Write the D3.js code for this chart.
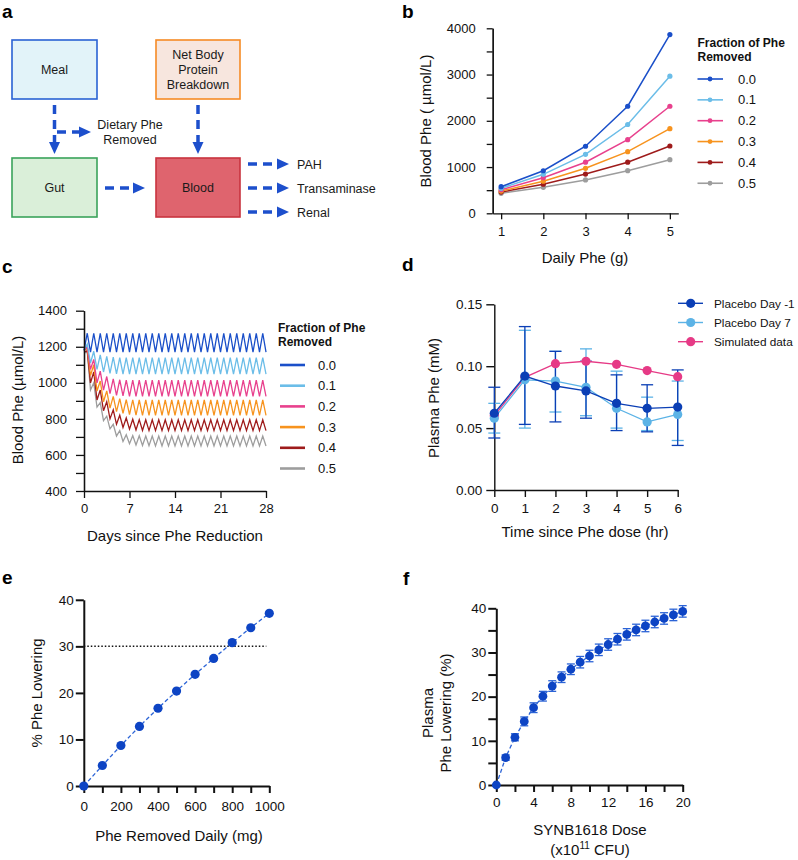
<!DOCTYPE html>
<html><head><meta charset="utf-8">
<script src="https://cdn.jsdelivr.net/npm/d3@7"></script>
<style>body{margin:0;background:#fff} svg{display:block}</style>
</head><body>
<svg id="fig" width="798" height="860"></svg>
<script>
// ---------------- DATA ----------------
// Panel a (schematic)
const aBoxNames = [["Meal"], ["Net Body", "Protein", "Breakdown"], ["Gut"], ["Blood"]];
const aOutflows = ["PAH", "Transaminase", "Renal"];
const aSideLabel = ["Dietary Phe", "Removed"];

// Panel b
const bDailyPhe = [1, 2, 3, 4, 5];
const bFractions = ["0.0", "0.1", "0.2", "0.3", "0.4", "0.5"];
const bBlood00 = [575, 920, 1450, 2315, 3865];
const bBlood01 = [540, 843, 1275, 1920, 2965];
const bBlood02 = [510, 770, 1105, 1592, 2315];
const bBlood03 = [480, 695, 973, 1333, 1830];
const bBlood04 = [458, 628, 848, 1105, 1455];
const bBlood05 = [432, 562, 722, 921, 1160];
const bYTicks = [0, 1000, 2000, 3000, 4000];

// Panel c : daily trough (days 0..28) and peak (days 0..27) values
const cFractions = ["0.0", "0.1", "0.2", "0.3", "0.4", "0.5"];
const cTrough00 = [1180, 1170,1170,1170,1170,1170,1170,1170, 1170,1170,1170,1170,1170,1170,1170, 1170,1170,1170,1170,1170,1170,1170, 1170,1170,1170,1170,1170,1170,1170];
const cPeak00   = [1275,1275,1275,1275,1275,1275,1275, 1275,1275,1275,1275,1275,1275,1275, 1275,1275,1275,1275,1275,1275,1275, 1275,1275,1275,1275,1275,1275,1275];
const cTrough01 = [1180,1110,1075,1060,1052,1049,1048, 1048,1048,1048,1048,1048,1048,1048, 1048,1048,1048,1048,1048,1048,1048, 1048,1048,1048,1048,1048,1048,1048, 1048];
const cPeak01   = [1215,1175,1155,1146,1142,1140,1140, 1140,1140,1140,1140,1140,1140,1140, 1140,1140,1140,1140,1140,1140,1140, 1140,1140,1140,1140,1140,1140,1140];
const cTrough02 = [1180,1075,1000,960,940,930,927, 925,925,925,925,925,925,925, 925,925,925,925,925,925,925, 925,925,925,925,925,925,925, 925];
const cPeak02   = [1200,1130,1065,1035,1022,1017,1015, 1015,1015,1015,1015,1015,1015,1015, 1015,1015,1015,1015,1015,1015,1015, 1015,1015,1015,1015,1015,1015,1015];
const cTrough03 = [1180,1040,955,895,860,840,830, 824,821,820,820,820,820,820, 820,820,820,820,820,820,820, 820,820,820,820,820,820,820, 820];
const cPeak03   = [1190,1100,1010,955,925,912,907, 905,905,905,905,905,905,905, 905,905,905,905,905,905,905, 905,905,905,905,905,905,905];
const cTrough04 = [1170,1000,905,845,800,770,752, 743,738,736,735,735,735,735, 735,735,735,735,735,735,735, 735,735,735,735,735,735,735, 735];
const cPeak04   = [1178,1060,960,895,850,820,805, 798,796,795,795,795,795,795, 795,795,795,795,795,795,795, 795,795,795,795,795,795,795];
const cTrough05 = [1165,960,865,790,745,705,675, 662,655,652,651,650,650,650, 650,650,650,650,650,650,650, 650,650,650,650,650,650,650, 650];
const cPeak05   = [1172,1000,890,815,770,735,712, 707,706,705,705,705,705,705, 705,705,705,705,705,705,705, 705,705,705,705,705,705,705];
const cXTicks = [0, 7, 14, 21, 28];
const cYTicks = [400, 600, 800, 1000, 1200, 1400];

// Panel d
const dTime = [0, 1, 2, 3, 4, 5, 6];
const dSeriesNames = ["Placebo Day -1", "Placebo Day 7", "Simulated data"];
const dDayM1   = [0.062, 0.092, 0.084, 0.080, 0.070, 0.066, 0.067];
const dDayM1Lo = [0.042, 0.053, 0.055, 0.058, 0.048, 0.047, 0.036];
const dDayM1Hi = [0.083, 0.132, 0.112, 0.104, 0.093, 0.085, 0.097];
const dDay7    = [0.058, 0.089, 0.088, 0.083, 0.066, 0.055, 0.061];
const dDay7Lo  = [0.046, 0.050, 0.063, 0.060, 0.050, 0.048, 0.040];
const dDay7Hi  = [0.070, 0.129, 0.112, 0.114, 0.096, 0.075, 0.088];
const dSim     = [0.060, 0.091, 0.102, 0.104, 0.1015, 0.0965, 0.0915];
const dYTicks = [0, 0.05, 0.10, 0.15];

// Panel e
const eRemoved = [0, 100, 200, 300, 400, 500, 600, 700, 800, 900, 1000];
const eLowering = [0, 4.4, 8.7, 12.8, 16.7, 20.4, 24.0, 27.4, 30.8, 34.0, 37.1];
const eThreshold = 30;
const eYTicks = [0, 10, 20, 30, 40];

// Panel f
const fDose = [0,1,2,3,4,5,6,7,8,9,10,11,12,13,14,15,16,17,18,19,20];
const fLowering = [0, 6.2, 10.8, 14.4, 17.5, 20.1, 22.4, 24.4, 26.2, 27.8, 29.2, 30.6, 31.8, 33.0, 34.1, 35.1, 36.0, 36.9, 37.7, 38.5, 39.3];
const fErr = [0, 0.6, 0.8, 1.0, 1.1, 1.1, 1.2, 1.2, 1.2, 1.3, 1.3, 1.3, 1.3, 1.3, 1.3, 1.3, 1.3, 1.3, 1.3, 1.3, 1.3];
const fXTicks = [0, 4, 8, 12, 16, 20];
const fYTicks = [0, 10, 20, 30, 40];

// ---------------- STYLE ----------------
const FONT = "'Liberation Sans', Arial, Helvetica, sans-serif";
const seriesColors = ["#1a4fc9", "#6bbde8", "#e8418d", "#f7931e", "#9e1b1b", "#9d9d9d"];
const dColors = ["#0b3fb5", "#5cb3e6", "#e63a86"];
const blueDot = "#0d44c4";
const blueLine = "#2b63d6";

const svg = d3.select("#fig");

function txt(g, x, y, s, opt = {}) {
  return g.append("text").attr("x", x).attr("y", y)
    .attr("font-family", FONT).attr("font-size", opt.size || 13)
    .attr("font-weight", opt.weight || "normal")
    .attr("text-anchor", opt.anchor || "start")
    .attr("fill", opt.fill || "#111").text(s);
}
function panelLabel(x, y, s) { txt(svg, x, y, s, {size: 19, weight: "bold", fill: "#000"}); }
function styleAxis(g, fs, sw) {
  g.select("path.domain").attr("stroke", "#111").attr("stroke-width", sw);
  g.selectAll(".tick line").attr("stroke", "#111").attr("stroke-width", sw);
  g.selectAll(".tick text").attr("font-family", FONT).attr("font-size", fs).attr("fill", "#111");
}
function rotLabel(x, y, s, size) {
  svg.append("text").attr("transform", `translate(${x},${y}) rotate(-90)`)
    .attr("text-anchor", "middle").attr("dominant-baseline", "central")
    .attr("font-family", FONT).attr("font-size", size || 15).attr("fill", "#111").text(s);
}

// ---------------- PANEL A ----------------
(function () {
  panelLabel(2, 18, "a");
  const g = svg.append("g");
  const boxes = [
    {x: 12, y: 40, w: 85, h: 59, fill: "#e2f3f9", stroke: "#2a62d4"},
    {x: 156, y: 40, w: 84, h: 59, fill: "#f7e6de", stroke: "#f68b25"},
    {x: 12, y: 158, w: 85, h: 59, fill: "#daefd9", stroke: "#3aa35a"},
    {x: 156, y: 158, w: 84, h: 59, fill: "#df646e", stroke: "#c9343f"}
  ];
  boxes.forEach((b, i) => {
    g.append("rect").attr("x", b.x).attr("y", b.y).attr("width", b.w).attr("height", b.h)
      .attr("fill", b.fill).attr("stroke", b.stroke).attr("stroke-width", 1.6);
    const lines = aBoxNames[i];
    const cx = b.x + b.w / 2, cy = b.y + b.h / 2;
    lines.forEach((l, j) => {
      txt(g, cx, cy + (j - (lines.length - 1) / 2) * 15 + 4.5, l, {size: 12.5, anchor: "middle", fill: "#1a1a1a"});
    });
  });
  const ac = "#1d4fcc";
  function arrow(x1, y1, x2, y2) {
    const dx = x2 - x1, dy = y2 - y1, L = Math.hypot(dx, dy);
    const ux = dx / L, uy = dy / L, hl = 12, hw = 5.5;
    const bx = x2 - ux * hl, by = y2 - uy * hl;
    g.append("line").attr("x1", x1).attr("y1", y1).attr("x2", bx + ux * 1).attr("y2", by + uy * 1)
      .attr("stroke", ac).attr("stroke-width", 3.5).attr("stroke-dasharray", "9,6");
    g.append("path").attr("d", `M${x2},${y2} L${bx - uy * hw},${by + ux * hw} L${bx + uy * hw},${by - ux * hw} Z`)
      .attr("fill", ac);
  }
  arrow(54.5, 105, 54.5, 154);
  arrow(57, 132, 91, 132);
  arrow(198, 105, 198, 154);
  arrow(105, 188, 145, 188);
  arrow(248, 164, 289, 164);
  arrow(248, 188, 289, 188);
  arrow(248, 212, 289, 212);
  txt(g, 130, 128.5, aSideLabel[0], {size: 12.5, anchor: "middle", fill: "#1a1a1a"});
  txt(g, 130, 143.5, aSideLabel[1], {size: 12.5, anchor: "middle", fill: "#1a1a1a"});
  aOutflows.forEach((s, i) => txt(g, 297, 168.5 + i * 24, s, {size: 12.5, fill: "#1a1a1a"}));
})();

// ---------------- PANEL B ----------------
(function () {
  panelLabel(402, 18, "b");
  const x = d3.scaleLinear().domain([0.8, 5.2]).range([492.7, 678.3]);
  const y = d3.scaleLinear().domain([0, 4000]).range([213.3, 28.3]);
  const g = svg.append("g");
  const ax = g.append("g").attr("transform", `translate(0,${y(0)})`)
    .call(d3.axisBottom(x).tickValues(bDailyPhe).tickFormat(d3.format("d")).tickSize(6).tickSizeOuter(0).tickPadding(7));
  styleAxis(ax, 13, 1.3);
  const ayMinor = g.append("g").attr("transform", `translate(${x(0.8)},0)`)
    .call(d3.axisLeft(y).tickValues([500, 1500, 2500, 3500]).tickFormat("").tickSize(6).tickSizeOuter(0));
  styleAxis(ayMinor, 13, 1.3);
  const ay = g.append("g").attr("transform", `translate(${x(0.8)},0)`)
    .call(d3.axisLeft(y).tickValues(bYTicks).tickFormat(d3.format("d")).tickSize(6).tickSizeOuter(0).tickPadding(11));
  styleAxis(ay, 13, 1.3);
  const all = [bBlood00, bBlood01, bBlood02, bBlood03, bBlood04, bBlood05];
  const line = d3.line().x((d, i) => x(bDailyPhe[i])).y(d => y(d));
  for (let k = all.length - 1; k >= 0; k--) {
    g.append("path").attr("d", line(all[k])).attr("fill", "none").attr("stroke", seriesColors[k]).attr("stroke-width", 1.5);
    g.selectAll(null).data(all[k]).enter().append("circle")
      .attr("cx", (d, i) => x(bDailyPhe[i])).attr("cy", d => y(d)).attr("r", 2.6).attr("fill", seriesColors[k]);
  }
  txt(g, 585, 263, "Daily Phe (g)", {size: 15, anchor: "middle"});
  rotLabel(425, 121, "Blood Phe ( µmol/L)", 15);
  // legend
  txt(g, 697.5, 46.5, "Fraction of Phe", {size: 12, weight: "bold"});
  txt(g, 697.5, 61, "Removed", {size: 12, weight: "bold"});
  bFractions.forEach((f, i) => {
    const yy = 79 + i * 20.85;
    g.append("line").attr("x1", 697.5).attr("x2", 723).attr("y1", yy).attr("y2", yy).attr("stroke", seriesColors[i]).attr("stroke-width", 1.6);
    g.append("circle").attr("cx", 710).attr("cy", yy).attr("r", 2.4).attr("fill", seriesColors[i]);
    txt(g, 738, yy + 4.5, f, {size: 13});
  });
})();

// ---------------- PANEL C ----------------
(function () {
  panelLabel(2, 273, "c");
  const x = d3.scaleLinear().domain([0, 28]).range([84, 266]);
  const y = d3.scaleLinear().domain([400, 1400]).range([491, 310.7]);
  const g = svg.append("g");
  const troughs = [cTrough00, cTrough01, cTrough02, cTrough03, cTrough04, cTrough05];
  const peaks = [cPeak00, cPeak01, cPeak02, cPeak03, cPeak04, cPeak05];
  const line = d3.line().x(d => x(d.t)).y(d => y(d.v));
  for (let k = troughs.length - 1; k >= 0; k--) {
    const pts = [];
    peaks[k].forEach((p, d) => { pts.push({t: d, v: troughs[k][d]}); pts.push({t: d + 0.5, v: p}); });
    pts.push({t: 28, v: troughs[k][28]});
    g.append("path").attr("d", line(pts)).attr("fill", "none").attr("stroke", seriesColors[k]).attr("stroke-width", 1.3);
  }
  const ax = g.append("g").attr("transform", `translate(0,${y(400)})`)
    .call(d3.axisBottom(x).tickValues(cXTicks).tickSize(7).tickSizeOuter(0).tickPadding(6));
  styleAxis(ax, 13, 1.3);
  const ayMinor = g.append("g").attr("transform", `translate(${x(0)},0)`)
    .call(d3.axisLeft(y).tickValues([500, 700, 900, 1100, 1300]).tickFormat("").tickSize(8).tickSizeOuter(0));
  styleAxis(ayMinor, 13, 1.3);
  const ay = g.append("g").attr("transform", `translate(${x(0)},0)`)
    .call(d3.axisLeft(y).tickValues(cYTicks).tickFormat(d3.format("d")).tickSize(8).tickSizeOuter(0).tickPadding(9));
  styleAxis(ay, 13, 1.3);
  txt(g, 175, 541, "Days since Phe Reduction", {size: 15, anchor: "middle"});
  rotLabel(17, 400, "Blood Phe (µmol/L)", 15);
  txt(g, 278, 331.5, "Fraction of Phe", {size: 12, weight: "bold"});
  txt(g, 278, 346, "Removed", {size: 12, weight: "bold"});
  cFractions.forEach((f, i) => {
    const yy = 365 + i * 20.7;
    g.append("line").attr("x1", 280).attr("x2", 305).attr("y1", yy).attr("y2", yy).attr("stroke", seriesColors[i]).attr("stroke-width", 2.6);
    txt(g, 318, yy + 4.5, f, {size: 13});
  });
})();

// ---------------- PANEL D ----------------
(function () {
  panelLabel(402, 271, "d");
  const x = d3.scaleLinear().domain([0, 6]).range([494.3, 677.7]);
  const y = d3.scaleLinear().domain([0, 0.15]).range([490, 304.3]);
  const g = svg.append("g");
  const ax = g.append("g").attr("transform", `translate(0,${y(0)})`)
    .call(d3.axisBottom(x).tickValues(dTime).tickFormat(d3.format("d")).tickSize(7).tickSizeOuter(0).tickPadding(6));
  styleAxis(ax, 13.5, 1.4);
  const ay = g.append("g").attr("transform", `translate(${x(0)},0)`)
    .call(d3.axisLeft(y).tickValues(dYTicks).tickFormat(d3.format(".2f")).tickSize(8).tickSizeOuter(0).tickPadding(4));
  styleAxis(ay, 13.5, 1.4);
  const series = [
    {v: dSim, c: dColors[2]},
    {v: dDay7, lo: dDay7Lo, hi: dDay7Hi, c: dColors[1]},
    {v: dDayM1, lo: dDayM1Lo, hi: dDayM1Hi, c: dColors[0]}
  ];
  const line = d3.line().x((d, i) => x(dTime[i])).y(d => y(d));
  series.forEach(s => {
    if (s.lo) {
      dTime.forEach((t, i) => {
        const xx = x(t);
        g.append("line").attr("x1", xx).attr("x2", xx).attr("y1", y(s.lo[i])).attr("y2", y(s.hi[i])).attr("stroke", s.c).attr("stroke-width", 1.3);
        [s.lo[i], s.hi[i]].forEach(v => g.append("line").attr("x1", xx - 6).attr("x2", xx + 6).attr("y1", y(v)).attr("y2", y(v)).attr("stroke", s.c).attr("stroke-width", 1.3));
      });
    }
  });
  series.forEach(s => {
    g.append("path").attr("d", line(s.v)).attr("fill", "none").attr("stroke", s.c).attr("stroke-width", 1.3);
    g.selectAll(null).data(s.v).enter().append("circle")
      .attr("cx", (d, i) => x(dTime[i])).attr("cy", d => y(d)).attr("r", 4.6).attr("fill", s.c);
  });
  txt(g, 585, 537, "Time since Phe dose (hr)", {size: 15, anchor: "middle"});
  rotLabel(433, 398, "Plasma Phe (mM)", 15);
  dSeriesNames.forEach((n, i) => {
    const yy = 303.3 + i * 19.2;
    g.append("line").attr("x1", 678).attr("x2", 703).attr("y1", yy).attr("y2", yy).attr("stroke", dColors[i]).attr("stroke-width", 1.4);
    g.append("circle").attr("cx", 690.7).attr("cy", yy).attr("r", 4.6).attr("fill", dColors[i]);
    txt(g, 714, yy + 4.3, n, {size: 11.8});
  });
})();

// ---------------- PANEL E ----------------
(function () {
  panelLabel(2, 584, "e");
  const x = d3.scaleLinear().domain([0, 1000]).range([83.8, 269.3]);
  const y = d3.scaleLinear().domain([0, 40]).range([786, 599.8]);
  const g = svg.append("g");
  g.append("line").attr("x1", x(0)).attr("x2", x(1000) - 3).attr("y1", y(eThreshold)).attr("y2", y(eThreshold))
    .attr("stroke", "#111").attr("stroke-width", 1.5).attr("stroke-dasharray", "1.5,2");
  g.append("path").attr("d", d3.line().x((d, i) => x(eRemoved[i])).y(d => y(d))(eLowering))
    .attr("fill", "none").attr("stroke", blueLine).attr("stroke-width", 1.3).attr("stroke-dasharray", "4,2.5");
  const ax = g.append("g").attr("transform", `translate(0,${y(0)})`)
    .call(d3.axisBottom(x).tickValues(eRemoved).tickFormat(d => d % 200 === 0 ? d : "").tickSize(7).tickSizeOuter(0).tickPadding(8));
  styleAxis(ax, 13.5, 2);
  const ay = g.append("g").attr("transform", `translate(${x(0)},0)`)
    .call(d3.axisLeft(y).tickValues(eYTicks).tickSize(8).tickSizeOuter(0).tickPadding(2));
  styleAxis(ay, 13.5, 2);
  g.selectAll(null).data(eLowering).enter().append("circle")
    .attr("cx", (d, i) => x(eRemoved[i])).attr("cy", d => y(d)).attr("r", 4.6).attr("fill", blueDot);
  txt(g, 179, 841, "Phe Removed Daily (mg)", {size: 15, anchor: "middle"});
  rotLabel(36, 693, "% Phe Lowering", 15);
})();

// ---------------- PANEL F ----------------
(function () {
  panelLabel(403, 585, "f");
  const x = d3.scaleLinear().domain([0, 20]).range([496.3, 682.7]);
  const y = d3.scaleLinear().domain([0, 40]).range([785, 608.3]);
  const g = svg.append("g");
  g.append("path").attr("d", d3.line().x((d, i) => x(fDose[i])).y(d => y(d))(fLowering))
    .attr("fill", "none").attr("stroke", blueLine).attr("stroke-width", 1.3).attr("stroke-dasharray", "4,2.5");
  fDose.forEach((t, i) => {
    if (fErr[i] <= 0) return;
    const xx = x(t);
    g.append("line").attr("x1", xx).attr("x2", xx).attr("y1", y(fLowering[i] - fErr[i])).attr("y2", y(fLowering[i] + fErr[i])).attr("stroke", blueLine).attr("stroke-width", 1.3);
    [fLowering[i] - fErr[i], fLowering[i] + fErr[i]].forEach(v => g.append("line").attr("x1", xx - 4).attr("x2", xx + 4).attr("y1", y(v)).attr("y2", y(v)).attr("stroke", blueLine).attr("stroke-width", 1.3));
  });
  const ax = g.append("g").attr("transform", `translate(0,${y(0)})`)
    .call(d3.axisBottom(x).tickValues(d3.range(0, 21, 2)).tickFormat(d => fXTicks.includes(d) ? d : "").tickSize(7).tickSizeOuter(0).tickPadding(5));
  styleAxis(ax, 13.5, 2);
  const ay = g.append("g").attr("transform", `translate(${x(0)},0)`)
    .call(d3.axisLeft(y).tickValues(d3.range(0, 41, 5)).tickFormat(d => fYTicks.includes(d) ? d : "").tickSize(8).tickSizeOuter(0).tickPadding(2));
  styleAxis(ay, 13.5, 2);
  g.selectAll(null).data(fLowering).enter().append("circle")
    .attr("cx", (d, i) => x(fDose[i])).attr("cy", d => y(d)).attr("r", 4.4).attr("fill", blueDot);
  txt(g, 590, 835, "SYNB1618 Dose", {size: 15, anchor: "middle"});
  const t2 = g.append("text").attr("x", 590).attr("y", 855).attr("text-anchor", "middle")
    .attr("font-family", FONT).attr("font-size", 15).attr("fill", "#111");
  t2.append("tspan").text("(x10");
  t2.append("tspan").attr("font-size", 10).attr("dy", -6).text("11");
  t2.append("tspan").attr("dy", 6).text(" CFU)");
  rotLabel(427, 713, "Plasma", 15);
  rotLabel(445, 713, "Phe Lowering (%)", 15);
})();
</script>
</body></html>
